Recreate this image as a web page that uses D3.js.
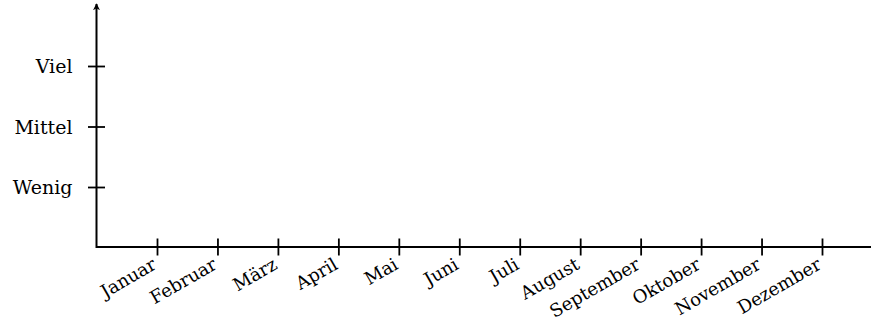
<!DOCTYPE html>
<html>
<head>
<meta charset="utf-8">
<script src="https://cdn.jsdelivr.net/npm/d3@7"></script>
<style>
  body { margin: 0; background: #fff; }
  svg { display: block; }
</style>
</head>
<body>
<svg id="chart" width="871" height="322"></svg>
<script>
const months = ['Januar', 'Februar', 'März', 'April', 'Mai', 'Juni',
  'Juli', 'August', 'September', 'Oktober', 'November', 'Dezember'];
const levels = ['Wenig', 'Mittel', 'Viel'];

const width = 871;
const origin = { x: 96.5, y: 247 };
const tick = 8.5;
const font = '"DejaVu Serif", serif';

const svg = d3.select('#chart');

// months sit one step apart, first one a step right of the y axis
const x = d3.scalePoint(months, [157, 822]);
const y = d3.scalePoint(levels, [187, 66]);

svg.append('defs')
  .append('marker')
  .attr('id', 'arrow')
  .attr('viewBox', '0 0 10 10')
  .attr('refX', 9)
  .attr('refY', 5)
  .attr('markerWidth', 7)
  .attr('markerHeight', 7)
  .attr('markerUnits', 'userSpaceOnUse')
  .attr('orient', 'auto')
  .append('path')
  .attr('d', 'M0,0 L10,5 L0,10 L3,5 Z')
  .attr('fill', '#000');

// axis lines
svg.append('line')
  .attr('x1', origin.x).attr('y1', origin.y)
  .attr('x2', width).attr('y2', origin.y)
  .attr('stroke', '#000')
  .attr('stroke-width', 2);

svg.append('line')
  .attr('x1', origin.x).attr('y1', origin.y + 1)
  .attr('x2', origin.x).attr('y2', 4)
  .attr('stroke', '#000')
  .attr('stroke-width', 2)
  .attr('marker-end', 'url(#arrow)');

// x ticks + labels
const xAxis = svg.append('g')
  .attr('transform', `translate(0,${origin.y})`)
  .call(d3.axisBottom(x).tickSize(tick).tickSizeOuter(0).tickPadding(0))
  .attr('font-family', font)
  .attr('font-size', 18);
xAxis.select('.domain').remove();
xAxis.selectAll('.tick line')
  .attr('y1', -tick)
  .attr('stroke-width', 1.8);
xAxis.selectAll('.tick text')
  .attr('text-anchor', 'end')
  .attr('dy', null)
  .attr('y', null)
  .attr('transform', 'translate(0,21) rotate(-30)');

// y ticks + labels
const yAxis = svg.append('g')
  .attr('transform', `translate(${origin.x},0)`)
  .call(d3.axisLeft(y).tickSize(tick).tickSizeOuter(0).tickPadding(0))
  .attr('font-family', font)
  .attr('font-size', 19);
yAxis.select('.domain').remove();
yAxis.selectAll('.tick line')
  .attr('x1', tick)
  .attr('stroke-width', 1.8);
yAxis.selectAll('.tick text')
  .attr('x', -24)
  .attr('dy', '0.36em');
</script>
</body>
</html>
